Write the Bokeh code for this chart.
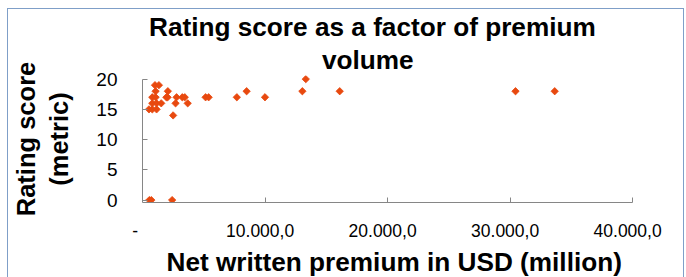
from bokeh.plotting import figure
from bokeh.models import Title, FixedTicker, Range1d
from bokeh.embed import file_html
from bokeh.resources import INLINE

# data: net written premium (USD million) vs rating score
premium = [560, 720, 2420,
           2500,
           530, 800, 1150,
           800, 1150, 1530, 2700, 3690,
           800, 1070, 1950, 2050, 2780, 3250, 3450, 5150, 5400, 7700, 10000,
           1070, 2070, 8500, 13050, 16100, 30450, 33650,
           1020, 1340,
           13330]
rating = [0, 0, 0,
          14,
          15, 15, 15,
          16, 16, 16, 16, 16,
          17, 17, 17, 17, 17, 17, 17, 17, 17, 17, 17,
          18, 18, 18, 18, 18, 18, 18,
          19, 19,
          20]

x_ticks = [0, 10000, 20000, 30000, 40000]
x_tick_labels = ["-\u00a0\u00a0\u00a0", "10.000,0\u00a0\u00a0", "20.000,0\u00a0\u00a0",
                 "30.000,0\u00a0\u00a0", "40.000,0\u00a0\u00a0"]
y_ticks = [0, 5, 10, 15, 20]

title_lines = ["Rating score as a factor of premium", "volume"]
x_title = "Net written premium in USD (million)"
y_title = "Rating score\n(metric)"

FONT = "Liberation Sans"
AXIS_COLOR = "#868686"
MARK_COLOR = "#E8490F"

p = figure(width=675, height=268, output_backend="svg", toolbar_location=None,
           x_range=Range1d(0, 40000), y_range=Range1d(-0.4, 20.6),
           min_border_left=130, min_border_right=51, min_border_top=64,
           min_border_bottom=71)
p.title.visible = False
p.outline_line_color = None
p.xgrid.visible = False
p.ygrid.visible = False
p.background_fill_color = "white"
p.border_fill_color = "white"
p.styles = {"margin-left": "8px", "margin-top": "9px",
            "outline": "1.2px solid #7F9FC8"}

p.scatter(premium, rating, marker="square", angle=0.785398, size=5.2,
          fill_color=MARK_COLOR, line_color=MARK_COLOR, line_width=0.8)

xa = p.xaxis[0]
xa.ticker = FixedTicker(ticks=x_ticks)
xa.major_label_overrides = dict(zip(x_ticks, x_tick_labels))
xa.bounds = (0, 40000)
ya = p.yaxis[0]
ya.ticker = FixedTicker(ticks=y_ticks)
ya.bounds = (0, 20)
for ax in (xa, ya):
    ax.axis_line_color = AXIS_COLOR
    ax.major_tick_line_color = AXIS_COLOR
    ax.major_tick_in = 5
    ax.major_tick_out = 0
    ax.minor_tick_line_color = None
    ax.major_label_text_font = FONT
    ax.major_label_text_color = "black"
xa.major_label_text_font_size = "17.5px"
xa.major_label_standoff = 18
ya.major_label_text_font_size = "19px"
ya.major_label_standoff = 25

ya.axis_label = y_title
ya.axis_label_text_font = FONT
ya.axis_label_text_font_style = "bold"
ya.axis_label_text_font_size = "25.5px"
ya.axis_label_text_color = "black"
ya.axis_label_standoff = 20

def make_title(text, offset, standoff):
    return Title(text=text, align="left", offset=offset, standoff=standoff,
                 text_font=FONT, text_font_style="bold", text_font_size="26.2px",
                 text_color="black")

# closest to the frame first
p.add_layout(make_title(title_lines[1], 179.5, 2), "above")
p.add_layout(make_title(title_lines[0], 6.5, 0), "above")
p.add_layout(make_title(x_title, 24, 2), "below")

open("out.html", "w").write(file_html(p, INLINE))
